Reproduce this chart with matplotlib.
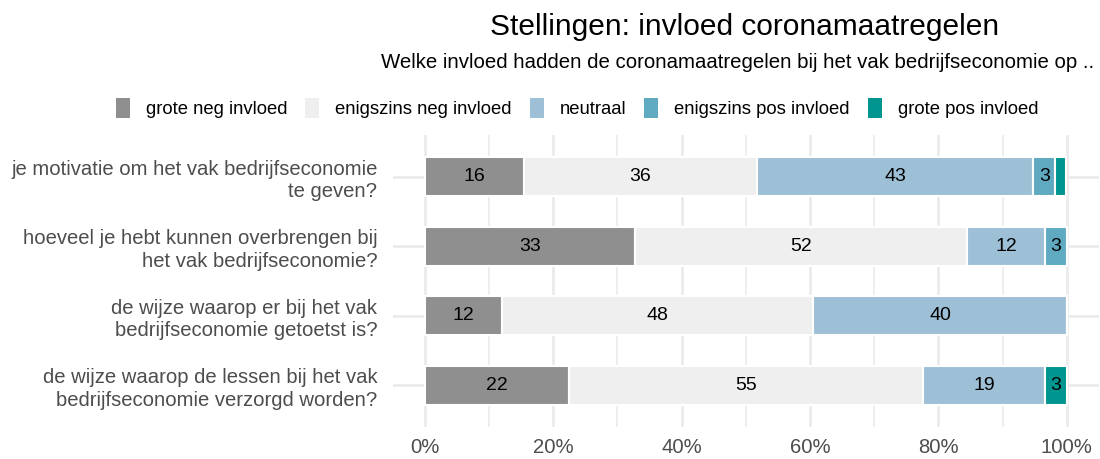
import numpy as np
import matplotlib
matplotlib.use("Agg")
import matplotlib.pyplot as plt
from matplotlib.patches import Patch

plt.rcParams['font.family'] = ['Liberation Sans', 'DejaVu Sans']

# statements (top to bottom)
questions = [
    "je motivatie om het vak bedrijfseconomie\nte geven?",
    "hoeveel je hebt kunnen overbrengen bij\nhet vak bedrijfseconomie?",
    "de wijze waarop er bij het vak\nbedrijfseconomie getoetst is?",
    "de wijze waarop de lessen bij het vak\nbedrijfseconomie verzorgd worden?",
]
categories = ["grote neg invloed", "enigszins neg invloed", "neutraal",
              "enigszins pos invloed", "grote pos invloed"]
colors = ["#8F8F8F", "#EFEFEF", "#9DC0D6", "#5FAAC1", "#00968F"]

# percentages per category, one value per statement
grote_neg = [15.5, 32.8, 12.1, 22.4]
enig_neg = [36.2, 51.7, 48.3, 55.2]
neutraal = [43.1, 12.1, 39.7, 19.0]
enig_pos = [3.4, 3.4, 0.0, 0.0]
grote_pos = [1.7, 0.0, 0.0, 3.4]
series = [grote_neg, enig_neg, neutraal, enig_pos, grote_pos]

fig = plt.figure(figsize=(11, 4.59), dpi=100)
ax = fig.add_axes([0.357, 0.0697, 0.642, 0.636])

y = np.arange(len(questions))
left = np.zeros(len(questions))
for vals, col in zip(series, colors):
    vals = np.array(vals)
    ax.barh(y, vals, left=left, height=0.56, color=col, edgecolor="white",
            linewidth=1.5, zorder=3)
    for yi, l, v in zip(y, left, vals):
        if v >= 2.5:
            ax.text(l + v / 2, yi, f"{round(v):d}", ha="center", va="center",
                    fontsize=14, color="black", zorder=4)
    left += vals

ax.set_xlim(-5, 105)
ax.set_ylim(len(questions) - 0.4, -0.6)
ax.set_xticks(np.arange(0, 101, 20))
ax.set_xticklabels([f"{v}%" for v in range(0, 101, 20)])
ax.set_xticks(np.arange(10, 100, 20), minor=True)
ax.set_yticks(y)
ax.set_yticklabels(questions, linespacing=1.22)

ax.grid(which="major", axis="both", color="#EBEBEB", linewidth=2.0, zorder=0)
ax.grid(which="minor", axis="x", color="#EBEBEB", linewidth=1.2, zorder=0)
for s in ax.spines.values():
    s.set_visible(False)
ax.tick_params(axis="both", which="both", length=0, colors="#4D4D4D")
ax.tick_params(axis="y", pad=11, labelsize=14.6)
ax.tick_params(axis="x", pad=8, labelsize=14.6)

fig.text(745 / 1100, 1 - 35 / 459, "Stellingen: invloed coronamaatregelen",
         ha="center", va="baseline", fontsize=21.5)
fig.text(738 / 1100, 1 - 68 / 459,
         "Welke invloed hadden de coronamaatregelen bij het vak bedrijfseconomie op ..",
         ha="center", va="baseline", fontsize=14.7)

handles = [Patch(facecolor=c, edgecolor="none") for c in colors]
fig.legend(handles, categories, loc="center", ncol=5,
           bbox_to_anchor=(577 / 1100, 1 - 108 / 459), frameon=False,
           fontsize=13.35, handlelength=0.76, handleheight=1.3,
           handletextpad=0.86, columnspacing=0.97)

fig.savefig("out.png", dpi=100)
